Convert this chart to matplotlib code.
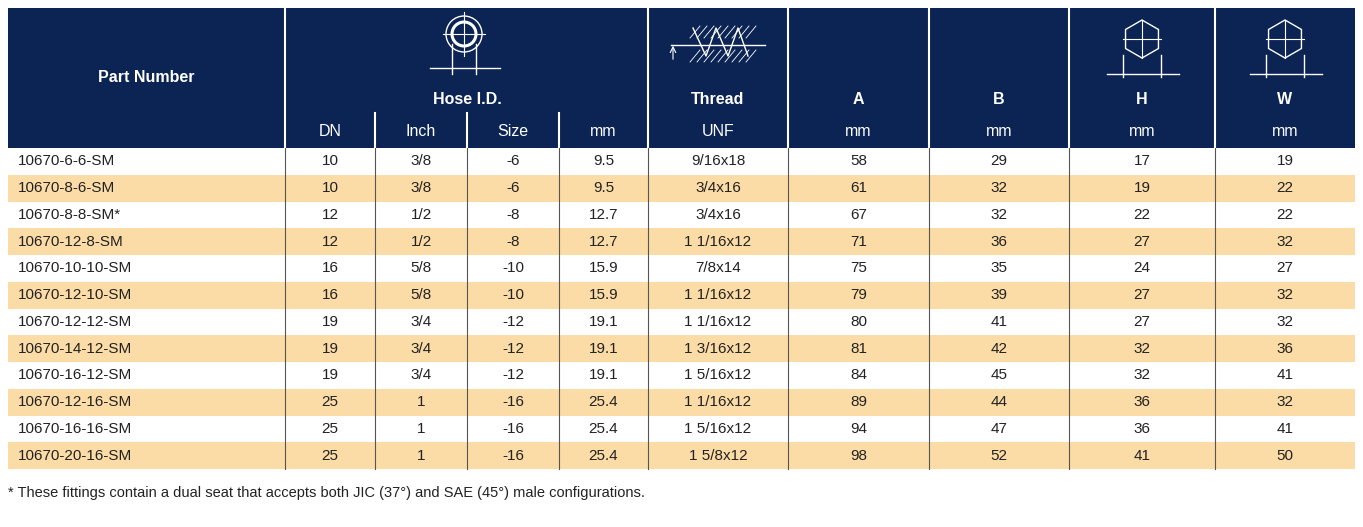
import numpy as np
import matplotlib.pyplot as plt
from matplotlib.patches import Rectangle, Circle, Polygon

plt.rcParams['font.family'] = ['Liberation Sans', 'DejaVu Sans']

part_numbers = ['10670-6-6-SM', '10670-8-6-SM', '10670-8-8-SM*', '10670-12-8-SM',
                '10670-10-10-SM', '10670-12-10-SM', '10670-12-12-SM', '10670-14-12-SM',
                '10670-16-12-SM', '10670-12-16-SM', '10670-16-16-SM', '10670-20-16-SM']
dn = ['10', '10', '12', '12', '16', '16', '19', '19', '19', '25', '25', '25']
inch = ['3/8', '3/8', '1/2', '1/2', '5/8', '5/8', '3/4', '3/4', '3/4', '1', '1', '1']
size = ['-6', '-6', '-8', '-8', '-10', '-10', '-12', '-12', '-12', '-16', '-16', '-16']
mm = ['9.5', '9.5', '12.7', '12.7', '15.9', '15.9', '19.1', '19.1', '19.1', '25.4', '25.4', '25.4']
thread = ['9/16x18', '3/4x16', '3/4x16', '1 1/16x12', '7/8x14', '1 1/16x12', '1 1/16x12',
          '1 3/16x12', '1 5/16x12', '1 1/16x12', '1 5/16x12', '1 5/8x12']
col_a = ['58', '61', '67', '71', '75', '79', '80', '81', '84', '89', '94', '98']
col_b = ['29', '32', '32', '36', '35', '39', '41', '42', '45', '44', '47', '52']
col_h = ['17', '19', '22', '27', '24', '27', '27', '32', '32', '36', '36', '41']
col_w = ['19', '22', '22', '32', '27', '32', '32', '36', '41', '32', '41', '50']
units = ['DN', 'Inch', 'Size', 'mm', 'UNF', 'mm', 'mm', 'mm', 'mm']
footnote = '* These fittings contain a dual seat that accepts both JIC (37°) and SAE (45°) male configurations.'

NAVY = '#0b2454'
STRIPE = '#fcdca6'
edges = [8, 285, 375, 467, 559, 648, 788, 929, 1069, 1215, 1355]
y_top, y_title, y_unit, y_data = 8, 83, 113, 148
row_h = 26.75

fig = plt.figure(figsize=(13.63, 5.27), dpi=100)
ax = fig.add_axes([0, 0, 1, 1])
ax.set_xlim(0, 1363)
ax.set_ylim(527, 0)
ax.axis('off')

# header
ax.add_patch(Rectangle((edges[0], y_top), edges[-1] - edges[0], y_data - y_top, color=NAVY, lw=0))
for x in [285, 648, 788, 929, 1069, 1215]:
    ax.plot([x, x], [y_top, y_data], color='white', lw=1.5)
for x in [375, 467, 559]:
    ax.plot([x, x], [y_unit, y_data], color='white', lw=1.5)

hb = dict(color='white', fontsize=11.5, fontweight='bold', ha='center', va='center')
hn = dict(color='white', fontsize=11.5, ha='center', va='center')
ax.text(146, 78, 'Part Number', **hb)
ax.text(467, 99, 'Hose I.D.', **hb)
for lab, i in [('Thread', 5), ('A', 6), ('B', 7), ('H', 8), ('W', 9)]:
    ax.text((edges[i] + edges[i + 1]) / 2, 99, lab, **hb)
for i, u in enumerate(units):
    ax.text((edges[i + 1] + edges[i + 2]) / 2, 131, u, **hn)

# icons
lw = 1.0
cx, cy = 464, 34
ax.add_patch(Circle((cx, cy), 18, fill=False, ec='white', lw=lw))
ax.add_patch(Circle((cx, cy), 12, fill=False, ec='white', lw=2.2))
ax.plot([cx - 21, cx + 21], [cy, cy], color='white', lw=0.8)
ax.plot([cx, cx], [cy - 22, cy + 22], color='white', lw=0.8)
ax.plot([cx - 12, cx - 12], [cy + 10, cy + 40], color='white', lw=lw)
ax.plot([cx + 12, cx + 12], [cy + 10, cy + 40], color='white', lw=lw)
ax.plot([cx - 34, cx + 36], [cy + 34, cy + 34], color='white', lw=lw)

tx = 718
ax.plot([tx - 47, tx + 47], [45, 45], color='white', lw=lw)
ax.annotate('', xy=(tx - 45, 43), xytext=(tx - 45, 62),
            arrowprops=dict(arrowstyle='->', color='white', lw=0.8))
ax.plot([tx - 25, tx - 12, tx - 2, tx + 10, tx + 20, tx + 30],
        [28, 56, 28, 56, 28, 56], color='white', lw=lw)
for k in range(9):
    x0 = tx - 28 + k * 7
    ax.plot([x0, x0 + 10], [62, 50], color='white', lw=0.6)
    ax.plot([x0, x0 + 10], [38, 26], color='white', lw=0.6)

for i in (8, 9):
    hx = (edges[i] + edges[i + 1]) / 2
    hy = 39
    ang = np.deg2rad(np.arange(6) * 60 + 90)
    ax.add_patch(Polygon(np.c_[hx + 19 * np.cos(ang), hy + 19 * np.sin(ang)],
                         fill=False, ec='white', lw=lw))
    ax.plot([hx - 19, hx + 19], [hy, hy], color='white', lw=0.8)
    ax.plot([hx, hx], [hy - 19, hy + 19], color='white', lw=0.8)
    ax.plot([hx - 19, hx - 19], [hy + 16, hy + 38], color='white', lw=lw)
    ax.plot([hx + 19, hx + 19], [hy + 16, hy + 38], color='white', lw=lw)
    ax.plot([hx - 35, hx + 37], [hy + 35, hy + 35], color='white', lw=lw)

# data rows
cols = [dn, inch, size, mm, thread, col_a, col_b, col_h, col_w]
n = len(part_numbers)
for r in range(n):
    y0 = y_data + r * row_h
    if r % 2 == 1:
        ax.add_patch(Rectangle((edges[0], y0), edges[-1] - edges[0], row_h, color=STRIPE, lw=0))
    yc = y0 + row_h / 2
    ax.text(18, yc, part_numbers[r], fontsize=11, ha='left', va='center', color='#222222')
    for i, c in enumerate(cols):
        ax.text((edges[i + 1] + edges[i + 2]) / 2, yc, c[r], fontsize=11,
                ha='center', va='center', color='#222222')
y_end = y_data + n * row_h
for x in edges[1:-1]:
    ax.plot([x, x], [y_data, y_end], color='#555555', lw=0.8)

ax.text(8, 493, footnote, fontsize=10.5, ha='left', va='center', color='#222222')

fig.savefig('out.png', dpi=100)
